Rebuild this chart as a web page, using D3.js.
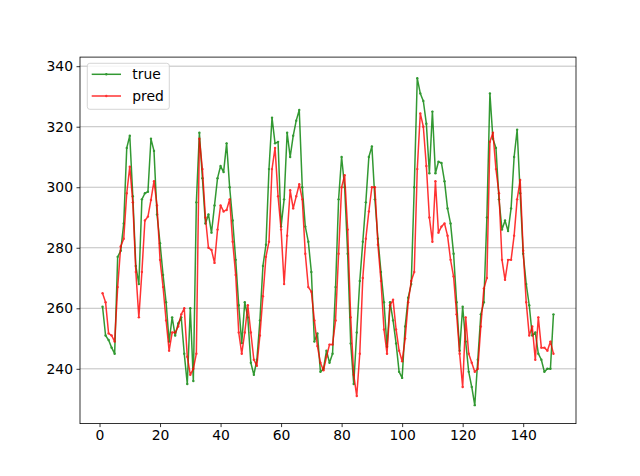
<!DOCTYPE html>
<html>
<head>
<meta charset="utf-8">
<script src="https://cdn.jsdelivr.net/npm/d3@7"></script>
<style>
  body { margin: 0; background: #fff; }
  text { font-family: "DejaVu Sans", sans-serif; }
</style>
</head>
<body>
<svg id="chart" width="640" height="476"></svg>
<script>
const xValues = d3.range(1, 151);
const trueValues = [
  260.5, 251, 249.5, 247, 245, 277, 279, 288, 313, 317,
  297, 274, 268, 296, 298, 298.5, 316, 312, 291, 281.5,
  271, 262, 249, 257, 251, 255, 257, 245, 235, 260,
  236, 295, 318, 303, 288, 291, 285, 294, 303, 307,
  305, 314.5, 300, 289, 276, 261, 248.5, 262, 257, 242,
  238, 243, 256, 274, 281, 306, 323, 314.5, 315, 287,
  296, 318, 310, 317, 322, 325.5, 300, 287, 282, 272,
  249, 251.7, 239, 240, 246, 242, 245, 267, 296, 310,
  300, 278, 248.4, 235, 252, 269, 282, 295, 310, 313.5,
  296, 283, 272, 262, 247.3, 262, 256, 248.4, 239, 237,
  254, 263.5, 268, 300, 336, 331, 328.5, 321, 304.6, 325,
  304.6, 308.4, 308, 302, 293, 288, 278, 262, 246, 260.5,
  249, 239, 234, 228, 243, 258, 262, 290, 331, 316,
  313, 296, 286, 289, 285.5, 293, 310, 319, 298, 278,
  268, 261, 251, 252, 245, 243, 239, 240, 240, 258
];
const predValues = [
  265, 262, 251.7, 251, 249, 267, 280.4, 283, 298, 306.8,
  295, 272, 257, 272, 289, 290.3, 295.8, 302, 294, 276,
  267, 256, 246, 252, 252, 254, 258, 260, 244, 238,
  240, 245, 316, 306, 290, 280, 279.3, 275, 286, 294,
  292, 292.5, 296, 282, 271, 252, 245, 252, 261, 252,
  243, 241, 251, 264, 277, 282, 306, 313, 297, 286,
  268, 284, 299, 293, 297, 301, 296, 278, 267, 265.5,
  256, 247.5, 242, 239.5, 244, 248, 248, 256, 278, 300,
  304, 286, 257, 238, 231, 245, 270, 283, 292, 300,
  300, 281, 269, 253, 245, 261, 262.8, 253, 246, 242.5,
  250, 262, 269, 272, 306, 324.4, 320, 307, 290, 282,
  302, 285, 287, 288, 284, 276, 270.5, 258, 245, 234,
  257, 245, 242, 239, 240, 254, 266.5, 270, 315, 318,
  306, 298, 276, 269.4, 276, 276, 284, 296, 302.4, 279,
  262, 251, 254, 243, 257, 247, 247, 246, 249, 245
];
const xTicks = [0, 20, 40, 60, 80, 100, 120, 140];
const yTicks = [240, 260, 280, 300, 320, 340];
const seriesNames = ["true", "pred"];
const seriesColors = ["#008000", "#ff0000"];

const svg = d3.select("#chart");
const L = 80, R = 576, T = 57.1, B = 423.6;
const x = d3.scaleLinear().domain([-6.45, 157.45]).range([L, R]);
const y = d3.scaleLinear().domain([221.9, 343.0]).range([B, T]);

// grid
svg.append("g").selectAll("line").data(yTicks).join("line")
  .attr("x1", L).attr("x2", R)
  .attr("y1", d => y(d)).attr("y2", d => y(d))
  .attr("stroke", "#b0b0b0").attr("stroke-width", 0.8);

const series = [trueValues, predValues];
series.forEach((vals, i) => {
  const pts = xValues.map((xv, j) => [xv, vals[j]]);
  const g = svg.append("g").attr("opacity", 0.8);
  g.append("path")
    .datum(pts)
    .attr("fill", "none")
    .attr("stroke", seriesColors[i])
    .attr("stroke-width", 1.5)
    .attr("stroke-linejoin", "round")
    .attr("d", d3.line().x(d => x(d[0])).y(d => y(d[1])));
  g.selectAll("circle").data(pts).join("circle")
    .attr("cx", d => x(d[0])).attr("cy", d => y(d[1]))
    .attr("r", 1.2)
    .attr("fill", seriesColors[i]);
});

// axes
const xAxis = d3.axisBottom(x).tickValues(xTicks).tickSize(3.5).tickPadding(3.5).tickSizeOuter(0);
const yAxis = d3.axisLeft(y).tickValues(yTicks).tickSize(3.5).tickPadding(3.5).tickSizeOuter(0);
const gx = svg.append("g").attr("transform", `translate(0,${B})`).call(xAxis);
const gy = svg.append("g").attr("transform", `translate(${L},0)`).call(yAxis);
[gx, gy].forEach(g => {
  g.select(".domain").remove();
  g.selectAll("line").attr("stroke", "#000").attr("stroke-width", 0.8);
  g.selectAll("text").attr("font-size", "13.9px").attr("fill", "#000")
    .attr("font-family", "DejaVu Sans, sans-serif");
});

// frame
svg.append("rect").attr("x", L).attr("y", T).attr("width", R - L).attr("height", B - T)
  .attr("fill", "none").attr("stroke", "#000").attr("stroke-width", 0.8);

// legend
const lg = svg.append("g");
lg.append("rect").attr("x", 87.3).attr("y", 63.3).attr("width", 82).attr("height", 46)
  .attr("rx", 2.5).attr("fill", "#fff").attr("fill-opacity", 0.8)
  .attr("stroke", "#cccccc").attr("stroke-width", 0.8);
seriesNames.forEach((name, i) => {
  const yy = 74.3 + i * 21.7;
  const it = lg.append("g").attr("opacity", 0.8);
  it.append("line").attr("x1", 91.7).attr("x2", 121).attr("y1", yy).attr("y2", yy)
    .attr("stroke", seriesColors[i]).attr("stroke-width", 1.5);
  it.append("circle").attr("cx", 106.3).attr("cy", yy).attr("r", 1.2).attr("fill", seriesColors[i]);
  lg.append("text").attr("x", 132.3).attr("y", yy).attr("dy", "0.35em")
    .attr("font-size", "13.9px").attr("fill", "#000").text(name);
});
</script>
</body>
</html>
